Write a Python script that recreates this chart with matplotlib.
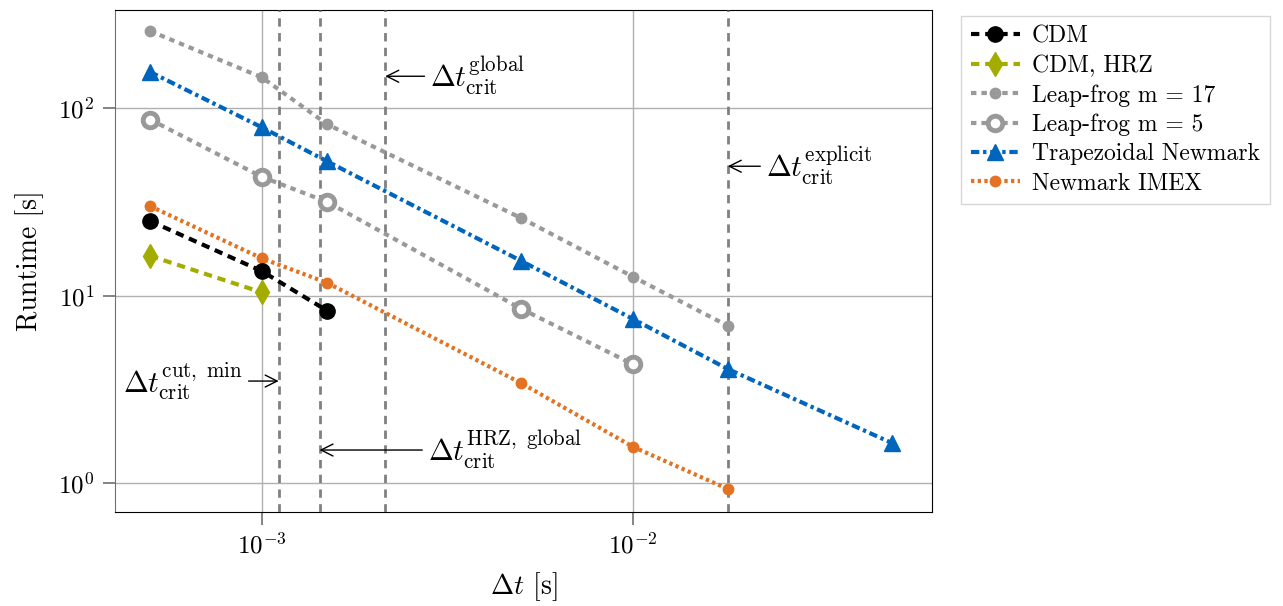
import matplotlib
matplotlib.use('Agg')
import matplotlib.pyplot as plt

plt.rcParams['font.family'] = 'serif'
plt.rcParams['font.serif'] = ['cmr10']
plt.rcParams['mathtext.fontset'] = 'cm'
plt.rcParams['axes.formatter.use_mathtext'] = True

# runtime data
dt_cdm = [5e-4, 1e-3, 1.5e-3]
rt_cdm = [25.0, 13.5, 8.3]
dt_hrz = [5e-4, 1e-3]
rt_hrz = [16.3, 10.4]
dt_lf17 = [5e-4, 1e-3, 1.5e-3, 5e-3, 1e-2, 0.018]
rt_lf17 = [258, 146, 82, 25.9, 12.6, 6.9]
dt_lf5 = [5e-4, 1e-3, 1.5e-3, 5e-3, 1e-2]
rt_lf5 = [87, 43, 31.6, 8.5, 4.3]
dt_trap = [5e-4, 1e-3, 1.5e-3, 5e-3, 1e-2, 0.018, 0.05]
rt_trap = [156, 79, 52, 15.3, 7.5, 4.06, 1.63]
dt_imex = [5e-4, 1e-3, 1.5e-3, 5e-3, 1e-2, 0.018]
rt_imex = [30, 15.8, 11.7, 3.41, 1.56, 0.93]

# critical time steps
dt_cut_min = 1.11e-3
dt_hrz_global = 1.43e-3
dt_global = 2.15e-3
dt_explicit = 0.018

black = 'black'
olive = '#a2ad00'
gray = '#999999'
blue = '#0065bd'
orange = '#e37222'

fig = plt.figure(figsize=(12.83, 6.06), dpi=100)
ax = fig.add_axes([0.0896, 0.155, 0.637, 0.8285])

lw = 3.0
ax.plot(dt_cdm, rt_cdm, color=black, lw=lw, dashes=(2.0, 1.4), marker='o', ms=11, label='CDM', zorder=5)
ax.plot(dt_hrz, rt_hrz, color=olive, lw=lw, dashes=(2.0, 1.4), marker='d', ms=12, label='CDM, HRZ', zorder=5)
ax.plot(dt_lf17, rt_lf17, color=gray, lw=lw, dashes=(1.3, 1.2), marker='o', ms=7.5, label='Leap-frog m = 17', zorder=4)
ax.plot(dt_lf5, rt_lf5, color=gray, lw=lw, dashes=(1.3, 1.2), marker='o', ms=10.5, mfc='white', mec=gray, mew=3.5,
        label='Leap-frog m = 5', zorder=4)
ax.plot(dt_trap, rt_trap, color=blue, lw=lw, dashes=(2.0, 0.9, 0.8, 0.9), marker='^', ms=11.5,
        label='Trapezoidal Newmark', zorder=4)
ax.plot(dt_imex, rt_imex, color=orange, lw=lw, dashes=(0.8, 0.8), marker='o', ms=7.5, label='Newmark IMEX', zorder=4)

for xv in [dt_cut_min, dt_hrz_global, dt_global, dt_explicit]:
    ax.axvline(xv, color='#808080', lw=2, dashes=(3, 2.3), zorder=3)

ax.set_xscale('log')
ax.set_yscale('log')
ax.set_xlim(4.02e-4, 0.064)
ax.set_ylim(0.70, 334)
ax.minorticks_off()
ax.set_xticks([1e-3, 1e-2])
ax.set_yticks([1, 10, 100])
ax.grid(True, color='#b0b0b0', lw=1)
ax.set_axisbelow(True)
ax.spines['left'].set_color('#707070')
ax.tick_params(axis='both', which='major', direction='out', length=9, width=1.2, color='#707070',
               labelsize=18, pad=6)
ax.set_xlabel(r'$\Delta t$ [s]', fontsize=20, labelpad=8)
ax.set_ylabel('Runtime [s]', fontsize=20, labelpad=10)

arrow = dict(arrowstyle='->', color='black', lw=1, shrinkA=2, shrinkB=0)
ax.annotate(r'$\Delta t_{\mathrm{crit}}^{\mathrm{global}}$', xy=(dt_global, 148), xytext=(2.84e-3, 148),
            fontsize=21.5, ha='left', va='center', arrowprops=arrow)
ax.annotate(r'$\Delta t_{\mathrm{crit}}^{\mathrm{explicit}}$', xy=(dt_explicit, 49), xytext=(0.0228, 49),
            fontsize=21.5, ha='left', va='center', arrowprops=arrow)
ax.annotate(r'$\Delta t_{\mathrm{crit}}^{\mathrm{cut,\ min}}$', xy=(dt_cut_min, 3.5), xytext=(8.9e-4, 3.5),
            fontsize=21.5, ha='right', va='center', arrowprops=arrow)
ax.annotate(r'$\Delta t_{\mathrm{crit}}^{\mathrm{HRZ,\ global}}$', xy=(dt_hrz_global, 1.5), xytext=(2.8e-3, 1.5),
            fontsize=21.5, ha='left', va='center', arrowprops=arrow)

leg = fig.legend(loc='upper left', bbox_to_anchor=(0.740, 0.993), fontsize=17, frameon=True,
                 fancybox=False, edgecolor='#cccccc', handlelength=2.1, handletextpad=0.5,
                 borderpad=0.4, labelspacing=0.3)

fig.savefig('out.png', dpi=100)
